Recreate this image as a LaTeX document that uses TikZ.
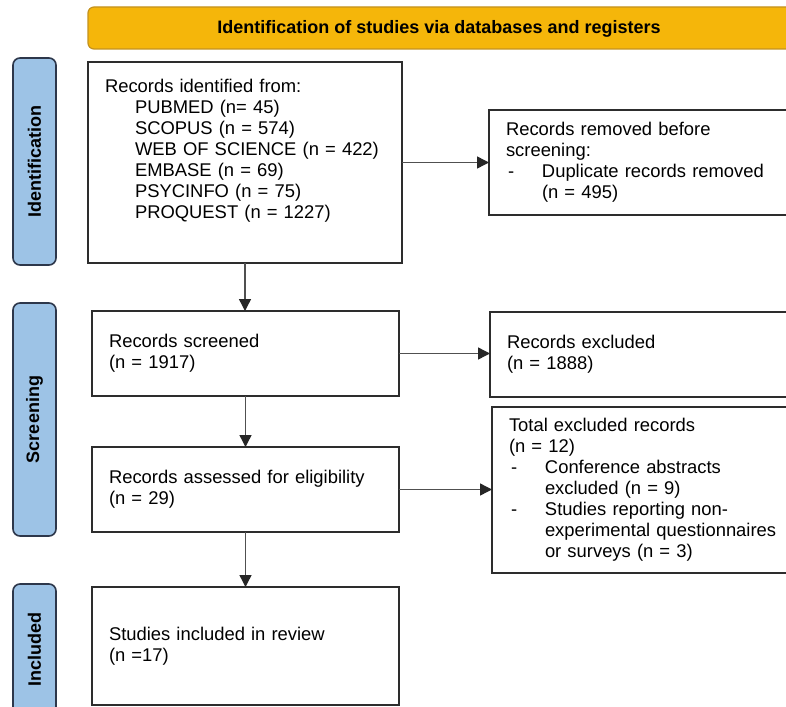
\documentclass[tikz,border=0pt]{standalone}
\usepackage{fontspec}
\setmainfont{Liberation Sans}
\usetikzlibrary{arrows.meta}
\definecolor{bannerfill}{RGB}{245,182,10}
\definecolor{bannerdraw}{RGB}{196,146,30}
\definecolor{tabfill}{RGB}{157,195,230}
\definecolor{tabdraw}{RGB}{45,55,75}
\definecolor{boxdraw}{RGB}{45,45,45}
\definecolor{arrowcol}{RGB}{80,80,80}
\begin{document}
\begin{tikzpicture}[x=1pt,y=-1pt,
  box/.style={draw=boxdraw, line width=1.9pt, fill=white, anchor=north west,
    outer sep=0pt, inner xsep=17pt, inner ysep=0pt, align=left,
    font=\fontsize{18.4}{21}\selectfont},
  tab/.style={draw=tabdraw, line width=1.6pt, fill=tabfill, rounded corners=7pt,
    rotate=90, anchor=center, inner sep=0pt, minimum height=43pt,
    font=\bfseries\fontsize{18}{20}\selectfont},
  banner/.style={draw=bannerdraw, line width=1.2pt, fill=bannerfill,
    rounded corners=6pt, anchor=north west, inner sep=0pt, outer sep=0pt},
  bannerlabel/.style={font=\bfseries\fontsize{18}{20}\selectfont},
  flow/.style={draw=arrowcol, line width=1.4pt,
    -{Triangle[length=12pt,width=12pt,fill=black!85,color=black!85]}}
]
\useasboundingbox (0,0) rectangle (786,706);
\clip (0,0) rectangle (786,706);
\fill[white] (0,0) rectangle (786,706);

% banner
\node[banner, minimum width=712pt, minimum height=42pt] (banner) at (88,7) {};
\node[bannerlabel] (bannertext) at (439,28.5) {Identification of studies via databases and registers};

% side tabs
\node[tab, minimum width=207pt] (tabid) at (34.5,161.5) {Identification};
\node[tab, minimum width=233pt] (tabscr) at (34.5,419.5) {Screening};
\node[tab, minimum width=131pt] (tabinc) at (34.5,649.5) {Included};

% boxes
\node[box, text width=280pt, minimum height=201pt] (ident) at (88,62) {%
Records identified from:\\
\hspace*{30pt}PUBMED (n= 45)\\
\hspace*{30pt}SCOPUS (n = 574)\\
\hspace*{30pt}WEB OF SCIENCE (n = 422)\\
\hspace*{30pt}EMBASE (n = 69)\\
\hspace*{30pt}PSYCINFO (n = 75)\\
\hspace*{30pt}PROQUEST (n = 1227)\\
\strut};

\node[box, text width=277pt, minimum height=105pt] (removed) at (489,110) {%
Records removed before\\
screening:\\
\hspace*{2pt}\makebox[34pt][l]{-}Duplicate records removed\\
\hspace*{36pt}(n = 495)};

\node[box, text width=273pt, minimum height=85pt] (screened) at (92,311) {%
Records screened\\
(n = 1917)};

\node[box, text width=276pt, minimum height=85pt] (excluded) at (490,312) {%
Records excluded\\
(n = 1888)};

\node[box, text width=273pt, minimum height=85pt] (assessed) at (92,447) {%
Records assessed for eligibility\\
(n = 29)};

\node[box, text width=274pt, minimum height=166pt] (totalexcl) at (492,407) {%
Total excluded records\\
(n = 12)\\
\hspace*{2pt}\makebox[34pt][l]{-}Conference abstracts\\
\hspace*{36pt}excluded (n = 9)\\
\hspace*{2pt}\makebox[34pt][l]{-}Studies reporting non-\\
\hspace*{36pt}experimental questionnaires\\
\hspace*{36pt}or surveys (n = 3)};

\node[box, text width=273pt, minimum height=118pt] (included) at (92,587) {%
Studies included in review\\
(n =17)};

% connectors
\draw[flow] (ident.east) -- (ident.east -| removed.west);
\draw[flow] (ident.south) -- (ident.south |- screened.north);
\draw[flow] (screened.east) -- (screened.east -| excluded.west);
\draw[flow] (screened.south) -- (assessed.north);
\draw[flow] (assessed.east) -- (assessed.east -| totalexcl.west);
\draw[flow] (assessed.south) -- (included.north);
\end{tikzpicture}
\end{document}
